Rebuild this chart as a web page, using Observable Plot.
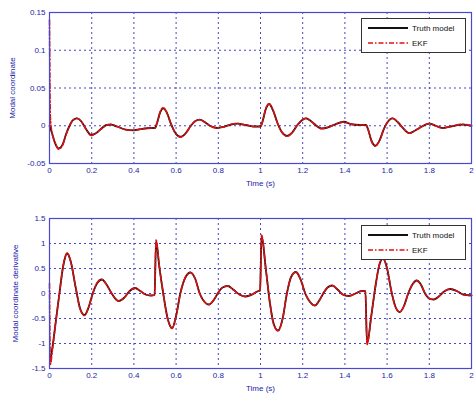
<!DOCTYPE html>
<html><head><meta charset="utf-8">
<script src="https://cdn.jsdelivr.net/npm/d3@7"></script>
<script src="https://cdn.jsdelivr.net/npm/@observablehq/plot@0.6"></script>
<style>
html,body{margin:0;padding:0;background:#fff;}
#wrap{position:relative;width:474px;height:395px;overflow:hidden;font-family:"Liberation Sans",Arial,sans-serif;}
.leg{position:absolute;background:#fff;border:1px solid #333;box-sizing:border-box;}
.leg svg{position:absolute;left:0;top:0;}
</style>
</head><body>
<div id="wrap"></div>
<script>
// ---- data ----
const xTicks = [0, 0.2, 0.4, 0.6, 0.8, 1, 1.2, 1.4, 1.6, 1.8, 2];
const yTicksTop = [-0.05, 0, 0.05, 0.1, 0.15];
const yTicksBot = [-1.5, -1, -0.5, 0, 0.5, 1, 1.5];
const seriesNames = ["Truth model", "EKF"];

const truthTopT = [0,0.010,0.025,0.043,0.060,0.080,0.095,0.110,0.130,0.150,0.170,0.197,0.220,0.245,0.270,0.290,0.320,0.360,0.400,0.440,0.480,0.500,0.510,0.525,0.539,0.555,0.575,0.595,0.620,0.645,0.670,0.690,0.712,0.735,0.760,0.795,0.830,0.860,0.890,0.930,0.970,1.000,1.010,1.025,1.041,1.060,1.080,1.100,1.126,1.150,1.175,1.195,1.215,1.240,1.265,1.289,1.320,1.355,1.395,1.430,1.470,1.500,1.510,1.525,1.544,1.565,1.585,1.605,1.626,1.650,1.675,1.705,1.735,1.765,1.800,1.830,1.862,1.900,1.957,2.000];
const truthTopV = [0.000,-0.008,-0.022,-0.030,-0.026,-0.010,0.000,0.007,0.0097,0.006,-0.003,-0.012,-0.010,-0.004,0.001,0.0015,-0.001,-0.005,-0.006,-0.004,-0.003,-0.003,0.004,0.018,0.023,0.018,0.003,-0.009,-0.0146,-0.010,0.000,0.006,0.008,0.005,0.000,-0.003,-0.001,0.0015,0.0027,0.001,-0.001,-0.001,0.006,0.022,0.0288,0.020,0.004,-0.008,-0.0133,-0.009,0.001,0.007,0.0097,0.006,0.000,-0.0035,-0.002,0.002,0.0053,0.002,0.001,0.001,-0.005,-0.019,-0.0265,-0.019,-0.004,0.006,0.0097,0.005,-0.003,-0.0097,-0.006,-0.001,0.0027,0.000,-0.003,-0.001,0.0015,0.000];

const ekfTopT = [0,0.004,0.010,0.025,0.043,0.060,0.080,0.095,0.110,0.130,0.150,0.170,0.197,0.220,0.245,0.270,0.290,0.320,0.360,0.400,0.440,0.480,0.500,0.510,0.525,0.539,0.555,0.575,0.595,0.620,0.645,0.670,0.690,0.712,0.735,0.760,0.795,0.830,0.860,0.890,0.930,0.970,1.000,1.010,1.025,1.041,1.060,1.080,1.100,1.126,1.150,1.175,1.195,1.215,1.240,1.265,1.289,1.320,1.355,1.395,1.430,1.470,1.500,1.510,1.525,1.544,1.565,1.585,1.605,1.626,1.650,1.675,1.705,1.735,1.765,1.800,1.830,1.862,1.900,1.957,2.000];
const ekfTopV = [0.14,0.012,-0.006,-0.021,-0.031,-0.027,-0.011,0.000,0.007,0.010,0.006,-0.003,-0.013,-0.010,-0.004,0.001,0.002,-0.001,-0.005,-0.006,-0.004,-0.003,-0.003,0.004,0.019,0.024,0.018,0.003,-0.009,-0.015,-0.010,0.000,0.006,0.008,0.005,0.000,-0.003,-0.001,0.002,0.003,0.001,-0.001,-0.001,0.006,0.023,0.029,0.020,0.004,-0.008,-0.014,-0.009,0.001,0.007,0.010,0.006,0.000,-0.004,-0.002,0.002,0.005,0.002,0.001,0.001,-0.005,-0.020,-0.027,-0.019,-0.004,0.006,0.010,0.005,-0.003,-0.010,-0.006,-0.001,0.003,0.000,-0.003,-0.001,0.002,0.000];

const truthBotT = [0.003,0.015,0.030,0.047,0.065,0.084,0.100,0.125,0.145,0.166,0.185,0.205,0.225,0.248,0.270,0.295,0.327,0.355,0.380,0.406,0.430,0.455,0.480,0.498,0.505,0.520,0.539,0.560,0.581,0.600,0.620,0.645,0.668,0.690,0.712,0.735,0.755,0.780,0.800,0.820,0.845,0.870,0.900,0.929,0.960,0.985,0.998,1.005,1.025,1.045,1.062,1.083,1.105,1.125,1.145,1.168,1.190,1.212,1.235,1.257,1.280,1.300,1.318,1.340,1.365,1.390,1.418,1.450,1.480,1.497,1.505,1.525,1.545,1.562,1.580,1.600,1.620,1.640,1.660,1.680,1.700,1.720,1.740,1.760,1.780,1.800,1.820,1.845,1.870,1.900,1.930,1.960,2.000];
const truthBotV = [-1.35,-1.05,-0.55,0.00,0.55,0.80,0.65,0.10,-0.30,-0.43,-0.28,0.00,0.20,0.28,0.18,0.00,-0.15,-0.08,0.05,0.11,0.05,-0.02,-0.04,-0.03,1.05,0.55,0.00,-0.50,-0.69,-0.45,0.00,0.33,0.42,0.30,0.00,-0.17,-0.22,-0.12,0.02,0.12,0.15,0.08,-0.02,-0.06,-0.02,0.04,0.06,1.15,0.50,-0.20,-0.60,-0.74,-0.50,0.00,0.33,0.43,0.28,0.00,-0.17,-0.24,-0.13,0.02,0.12,0.16,0.08,-0.02,-0.05,0.00,0.05,0.05,-1.00,-0.45,0.15,0.55,0.70,0.50,0.05,-0.27,-0.37,-0.25,0.00,0.18,0.26,0.18,0.00,-0.10,-0.12,-0.06,0.04,0.09,0.05,-0.02,-0.04];

const ekfBotT = [0,0.004,0.015,0.030,0.047,0.065,0.084,0.100,0.125,0.145,0.166,0.185,0.205,0.225,0.248,0.270,0.295,0.327,0.355,0.380,0.406,0.430,0.455,0.480,0.498,0.505,0.520,0.539,0.560,0.581,0.600,0.620,0.645,0.668,0.690,0.712,0.735,0.755,0.780,0.800,0.820,0.845,0.870,0.900,0.929,0.960,0.985,0.998,1.005,1.025,1.045,1.062,1.083,1.105,1.125,1.145,1.168,1.190,1.212,1.235,1.257,1.280,1.300,1.318,1.340,1.365,1.390,1.418,1.450,1.480,1.497,1.505,1.525,1.545,1.562,1.580,1.600,1.620,1.640,1.660,1.680,1.700,1.720,1.740,1.760,1.780,1.800,1.820,1.845,1.870,1.900,1.930,1.960,2.000];
const ekfBotV = [0.20,-1.42,-1.08,-0.57,0.00,0.56,0.81,0.65,0.10,-0.31,-0.44,-0.28,0.00,0.21,0.28,0.18,0.00,-0.15,-0.08,0.05,0.11,0.05,-0.02,-0.04,-0.03,1.07,0.56,0.00,-0.51,-0.70,-0.45,0.00,0.33,0.42,0.30,0.00,-0.17,-0.22,-0.12,0.02,0.12,0.15,0.08,-0.02,-0.06,-0.02,0.04,0.06,1.17,0.50,-0.20,-0.61,-0.75,-0.50,0.00,0.33,0.43,0.28,0.00,-0.17,-0.24,-0.13,0.02,0.12,0.16,0.08,-0.02,-0.05,0.00,0.05,0.05,-1.02,-0.45,0.15,0.56,0.71,0.50,0.05,-0.27,-0.37,-0.25,0.00,0.18,0.26,0.18,0.00,-0.10,-0.12,-0.06,0.04,0.09,0.05,-0.02,-0.04];

// ---- styles ----
const frameColor = "#4848d0";
const gridColor = "#3434b8";
const textColor = "#1c1ca8";
const redColor = "#e01010";
const fmt = d => String(d);

const toRows = (T, V) => T.map((t, i) => ({t, v: V[i]}));

function panel({height, marginTop, marginBottom, yDomain, yTicks, yLabel, truth, ekf, yLabelOffset}) {
  return Plot.plot({
    width: 474, height,
    marginLeft: 49, marginRight: 3, marginTop, marginBottom,
    style: {fontFamily: "'Liberation Sans', Arial, sans-serif", fontSize: "8px", color: textColor, background: "#fff"},
    x: {domain: [0, 2], ticks: xTicks, tickFormat: fmt, label: "Time (s)", labelAnchor: "center", labelArrow: "none", labelOffset: 22},
    y: {domain: yDomain, ticks: yTicks, tickFormat: fmt, label: yLabel, labelAnchor: "center", labelArrow: "none", labelOffset: yLabelOffset},
    marks: [
      Plot.gridX(xTicks, {stroke: gridColor, strokeOpacity: 0.9, strokeDasharray: "2,3"}),
      Plot.gridY(yTicks, {stroke: gridColor, strokeOpacity: 0.9, strokeDasharray: "2,3"}),
      Plot.axisX({ticks: xTicks, tickFormat: fmt, tickSize: 0, tickPadding: 4, label: "Time (s)", labelAnchor: "center", labelArrow: "none", labelOffset: 22, fill: textColor}),
      Plot.axisY({ticks: yTicks, tickFormat: fmt, tickSize: 0, tickPadding: 4, label: yLabel, labelAnchor: "center", labelArrow: "none", labelOffset: yLabelOffset, fill: textColor}),
      Plot.line(truth, {x: "t", y: "v", stroke: "#111", strokeWidth: 1.8, curve: "monotone-x"}),
      Plot.line(ekf, {x: "t", y: "v", stroke: redColor, strokeWidth: 1.6, strokeDasharray: "5,2,1.5,2", curve: "monotone-x"}),
      Plot.frame({stroke: frameColor, strokeWidth: 1.2})
    ]
  });
}

const wrap = document.getElementById("wrap");
const top1 = panel({height: 197, marginTop: 12, marginBottom: 34, yDomain: [-0.05, 0.15], yTicks: yTicksTop,
  yLabel: "Modal coordinate", truth: toRows(truthTopT, truthTopV), ekf: toRows(ekfTopT, ekfTopV), yLabelOffset: 40});
const bot1 = panel({height: 198, marginTop: 21, marginBottom: 27, yDomain: [-1.5, 1.5], yTicks: yTicksBot,
  yLabel: "Modal coordinate derivative", truth: toRows(truthBotT, truthBotV), ekf: toRows(ekfBotT, ekfBotV), yLabelOffset: 37});
[top1, bot1].forEach(s => { s.style.display = "block"; wrap.appendChild(s); });

function legend(left, top) {
  const d = document.createElement("div");
  d.className = "leg";
  Object.assign(d.style, {left: left + "px", top: top + "px", width: "105px", height: "35px"});
  const ns = "http://www.w3.org/2000/svg";
  const s = document.createElementNS(ns, "svg");
  s.setAttribute("width", 105); s.setAttribute("height", 35);
  const styles = [{stroke: "#111", dash: null}, {stroke: redColor, dash: "5,2,1.5,2"}];
  seriesNames.forEach((name, i) => {
    const y = 9 + i * 15;
    const l = document.createElementNS(ns, "line");
    l.setAttribute("x1", 6); l.setAttribute("x2", 46); l.setAttribute("y1", y); l.setAttribute("y2", y);
    l.setAttribute("stroke", styles[i].stroke); l.setAttribute("stroke-width", i ? 1.6 : 1.8);
    if (styles[i].dash) l.setAttribute("stroke-dasharray", styles[i].dash);
    s.appendChild(l);
    const t = document.createElementNS(ns, "text");
    t.setAttribute("x", 50); t.setAttribute("y", y + 3);
    t.setAttribute("font-size", "8px"); t.setAttribute("fill", "#111");
    t.setAttribute("font-family", "'Liberation Sans', Arial, sans-serif");
    t.textContent = name;
    s.appendChild(t);
  });
  d.appendChild(s);
  wrap.appendChild(d);
}
legend(361, 18);
legend(361, 225);
</script>
</body></html>
